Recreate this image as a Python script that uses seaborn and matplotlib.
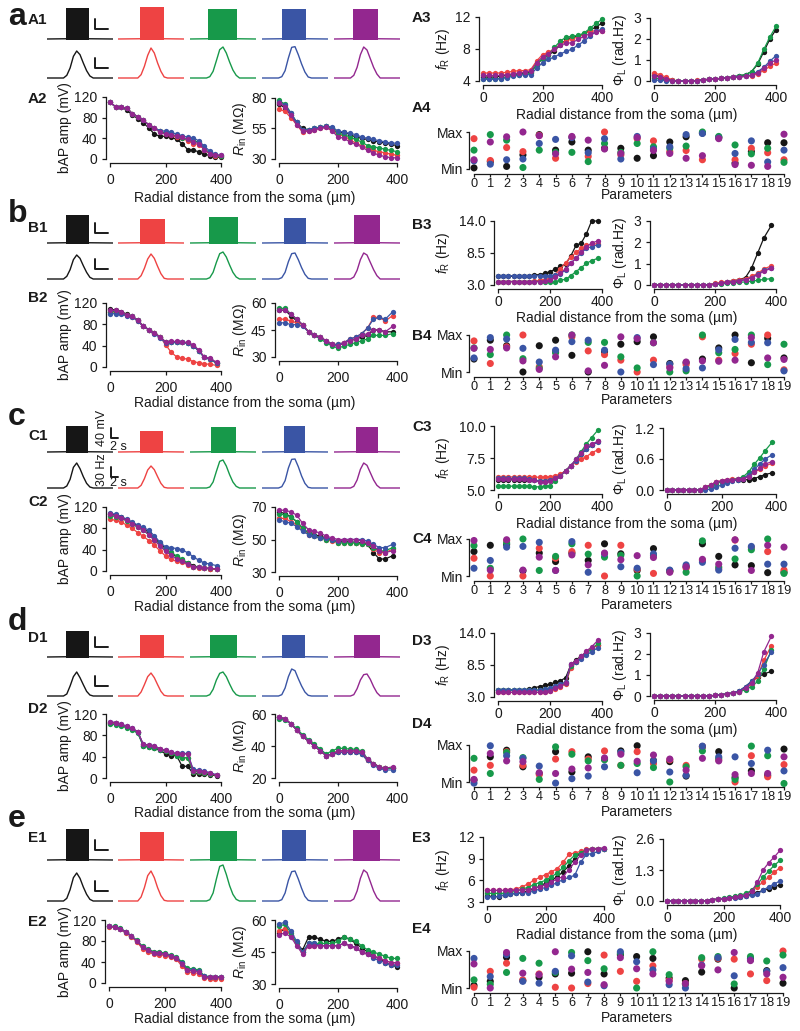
import matplotlib
matplotlib.use("Agg")
import matplotlib.pyplot as plt
import seaborn as sns

sns.set_theme(style="ticks", context="paper")
plt.rcParams["font.family"] = ["Liberation Sans", "DejaVu Sans"]
plt.rcParams["mathtext.fontset"] = "custom"
plt.rcParams["mathtext.rm"] = "Liberation Sans"
plt.rcParams["mathtext.it"] = "Liberation Sans:italic"
plt.rcParams["mathtext.bf"] = "Liberation Sans:bold"
plt.rcParams["axes.linewidth"] = 0.9
plt.rcParams["text.color"] = "#1a1a1a"

# ---------------------------------------------------------------- data
COLORS = ["#161616", "#EE4343", "#17994A", "#3A55A5", "#93278F"]
DIST_AE = [0, 20, 40, 60, 80, 100, 120, 140, 160, 180, 200, 220, 240, 260, 280, 300, 320, 340, 360, 380, 400]
DIST_BCD = [0, 20, 40, 60, 80, 100, 120, 140, 160, 180, 200, 220, 240, 260, 280, 300, 320, 340, 360, 385]
PARAMS = list(range(20))
PARAM_LABELS = [str(p) for p in PARAMS]
TRACE_T = [0, 2.5, 3.0, 3.5, 4.0, 4.5, 5.0, 5.5, 6.0, 6.5, 7.0, 7.5, 10]
REST_MV = -65
XLABEL = "Radial distance from the soma (\u00b5m)"

# ---- row a
V_START_A = [2.9, 3.3, 2.8, 3.0, 2.85]
V_END_A = [6.3, 7.0, 7.1, 6.6, 6.6]
V_PEAK_A = [58, 62, 54, 54, 54]
RATE_A = [[0, 0, 8, 30, 65, 81, 70, 45, 22, 6, 0, 0, 0],
          [0, 0, 0, 10, 35, 68, 90, 75, 45, 20, 3, 0, 0],
          [0, 0, 4, 20, 52, 85, 93, 75, 48, 24, 8, 0, 0],
          [0, 0, 4, 22, 60, 92, 94, 70, 42, 18, 3, 0, 0],
          [0, 0, 8, 32, 70, 93, 84, 58, 32, 12, 0, 0, 0]]
BAP_A = [[110, 101, 100, 95, 85, 78, 70, 60, 48, 44, 44, 42, 38, 30, 18, 17, 14, 10, 6, 4, 3],
         [110, 101, 100, 99, 88, 82, 75, 66, 60, 54, 48, 46, 42, 40, 35, 30, 28, 18, 10, 6, 5],
         [110, 101, 100, 99, 88, 82, 75, 66, 60, 54, 50, 48, 44, 40, 38, 35, 33, 20, 12, 8, 5],
         [110, 101, 100, 99, 88, 82, 75, 66, 60, 55, 54, 52, 48, 45, 42, 41, 35, 25, 15, 9, 7],
         [110, 101, 100, 99, 88, 82, 75, 66, 60, 52, 48, 47, 45, 42, 38, 33, 30, 18, 10, 7, 7]]
RIN_A = [[75, 72, 66, 60, 55, 54, 55, 56, 57, 55, 51, 52, 50, 48, 47, 46, 45, 44, 43, 42, 41],
         [71, 69, 64, 58, 52, 53, 54, 55, 56, 54, 50, 49, 46, 43, 41, 39, 37, 36, 35, 34, 33],
         [78, 75, 68, 60, 54, 54, 55, 56, 57, 55, 51, 50, 48, 46, 44, 41, 40, 39, 38, 37, 36],
         [77, 74, 68, 60, 54, 54, 55, 56, 57, 56, 53, 52, 51, 50, 48, 47, 46, 45, 44, 43, 43],
         [76, 73, 66, 58, 53, 53, 54, 55, 56, 53, 48, 47, 44, 42, 40, 37, 35, 33, 32, 31, 31]]
FR_A = [[4.5, 4.5, 4.5, 4.6, 4.7, 4.8, 4.9, 5.0, 5.1, 6.0, 6.8, 7.2, 7.8, 8.5, 9.2, 9.5, 9.6, 9.9, 10.3, 10.8, 11.2],
        [5.0, 5.0, 5.0, 5.0, 5.1, 5.2, 5.3, 5.3, 5.4, 6.5, 7.3, 7.6, 8.0, 8.6, 9.0, 9.3, 9.5, 9.9, 10.2, 10.3, 10.3],
        [4.3, 4.3, 4.3, 4.3, 4.5, 4.7, 4.8, 4.9, 5.0, 6.0, 6.8, 7.3, 8.2, 9.0, 9.5, 9.6, 9.7, 10.0, 10.6, 11.2, 11.7],
        [4.2, 4.2, 4.2, 4.3, 4.4, 4.6, 4.7, 4.8, 4.8, 5.6, 6.3, 6.7, 7.0, 7.4, 7.7, 8.0, 8.5, 9.0, 9.6, 10.2, 10.5],
        [4.7, 4.7, 4.7, 4.7, 4.8, 4.9, 5.0, 5.1, 5.2, 6.3, 7.0, 7.4, 8.0, 8.5, 8.7, 8.8, 9.2, 9.6, 9.9, 10.1, 10.3]]
PHI_A = [[0.30, 0.20, 0.10, 0.03, 0, 0, 0, 0.02, 0.05, 0.08, 0.10, 0.12, 0.15, 0.20, 0.25, 0.30, 0.45, 0.80, 1.40, 2.00, 2.45],
         [0.38, 0.30, 0.18, 0.05, 0, 0, 0, 0.03, 0.06, 0.08, 0.10, 0.12, 0.15, 0.18, 0.20, 0.22, 0.25, 0.35, 0.50, 0.70, 0.85],
         [0.15, 0.10, 0.05, 0, 0, 0, 0, 0.02, 0.05, 0.08, 0.10, 0.12, 0.15, 0.20, 0.25, 0.30, 0.45, 0.85, 1.50, 2.10, 2.60],
         [0.05, 0.03, 0.02, 0, 0, 0, 0, 0.02, 0.05, 0.08, 0.10, 0.12, 0.15, 0.18, 0.20, 0.22, 0.30, 0.45, 0.65, 0.95, 1.20],
         [0.25, 0.18, 0.10, 0.02, 0, 0, 0, 0.02, 0.05, 0.08, 0.10, 0.12, 0.15, 0.18, 0.20, 0.22, 0.28, 0.40, 0.60, 0.85, 1.00]]
PARS_A = [[.03, .20, .07, .38, .93, .51, .73, .51, .56, .56, .29, .36, .73, .87, .97, .86, .16, .47, .71, .71],
          [.82, .23, .58, .47, .91, .29, .86, .34, 1.0, .38, .82, .76, .47, .50, .25, .85, .25, .56, .44, .25],
          [.51, .93, .78, .04, .51, .45, .45, .20, .69, .45, .69, .60, .56, .62, 1.0, .88, .65, .41, .56, .18],
          [.22, .13, .25, .27, .69, .80, .85, .44, .82, .27, .88, .54, .60, .93, .96, .84, .42, .76, .19, .51],
          [.25, .73, .87, 1.0, .90, .41, .88, .78, .54, .42, .85, .50, .42, .29, .36, .82, .12, .10, .07, .94]]

# ---- row b
V_START_B = [2.9, 3.3, 2.9, 3.3, 3.0]
V_END_B = [6.3, 7.1, 7.2, 6.6, 6.9]
V_PEAK_B = [47, 31, 39, 35, 47]
RATE_B = [[0, 0, 8, 28, 58, 72, 62, 40, 20, 5, 0, 0, 0],
          [0, 0, 0, 10, 32, 60, 75, 62, 38, 16, 2, 0, 0],
          [0, 0, 4, 20, 50, 76, 81, 66, 42, 20, 6, 0, 0],
          [0, 0, 4, 20, 52, 76, 78, 58, 34, 14, 2, 0, 0],
          [0, 0, 6, 26, 58, 78, 72, 50, 28, 10, 0, 0, 0]]
BAP_B = [[108, 107, 104, 99, 95, 88, 77, 70, 63, 57, 47, 46, 46, 46, 45, 40, 30, 18, 15, 7],
         [103, 103, 101, 97, 94, 87, 76, 70, 63, 57, 42, 28, 19, 16, 15, 10, 8, 6, 5, 3],
         [104, 104, 102, 98, 95, 88, 76, 70, 63, 57, 47, 46, 46, 46, 45, 40, 30, 18, 15, 7],
         [100, 100, 99, 96, 94, 86, 76, 70, 62, 55, 45, 46, 46, 46, 45, 40, 30, 18, 15, 7],
         [106, 106, 103, 98, 95, 88, 76, 70, 63, 57, 47, 48, 48, 47, 46, 41, 32, 19, 16, 9]]
RIN_B = [[56, 56, 53, 50, 48, 44, 42, 41, 39, 37, 36, 38, 39, 40, 41, 42, 45, 45, 44, 44],
         [51, 51, 50, 49, 48, 44, 42, 41, 39, 37, 37, 38, 40, 41, 43, 46, 52, 52, 50, 53],
         [57, 57, 54, 51, 48, 44, 42, 40, 38, 36, 35, 36, 37, 38, 39, 40, 42, 42, 42, 43],
         [49, 49, 48, 48, 47, 44, 42, 41, 39, 37, 37, 38, 40, 41, 43, 46, 51, 52, 51, 55],
         [56, 56, 54, 51, 48, 44, 42, 41, 39, 37, 36, 38, 39, 40, 42, 43, 45, 45, 44, 47]]
FR_B = [[4.5, 4.5, 4.5, 4.5, 4.5, 4.6, 4.6, 4.7, 4.8, 5.0, 5.3, 5.7, 6.2, 6.6, 8.0, 9.8, 10.2, 11.8, 14.0, 14.0],
        [3.6, 3.6, 3.6, 3.6, 3.6, 3.6, 3.6, 3.7, 3.8, 3.9, 4.2, 4.8, 5.8, 6.8, 7.8, 8.6, 9.3, 9.8, 10.0, 10.1],
        [3.6, 3.6, 3.6, 3.6, 3.6, 3.6, 3.6, 3.6, 3.6, 3.6, 3.6, 3.6, 3.8, 4.0, 4.6, 5.3, 6.0, 6.7, 7.2, 7.6],
        [4.6, 4.6, 4.6, 4.6, 4.6, 4.6, 4.6, 4.6, 4.6, 4.6, 4.6, 4.7, 4.9, 5.6, 6.8, 7.6, 8.5, 9.3, 9.6, 9.9],
        [3.6, 3.6, 3.6, 3.6, 3.6, 3.6, 3.6, 3.6, 3.6, 3.7, 3.8, 4.3, 5.0, 5.8, 6.7, 7.6, 8.6, 9.6, 10.2, 10.6]]
PHI_B = [[0, 0, 0, 0, 0, 0, 0, 0, 0, 0, 0.05, 0.10, 0.15, 0.20, 0.25, 0.35, 0.80, 1.50, 2.20, 2.80],
         [0, 0, 0, 0, 0, 0, 0, 0, 0, 0.02, 0.08, 0.12, 0.15, 0.20, 0.25, 0.30, 0.40, 0.55, 0.75, 0.90],
         [0, 0, 0, 0, 0, 0, 0, 0, 0, 0, 0.03, 0.05, 0.08, 0.10, 0.12, 0.15, 0.18, 0.22, 0.26, 0.30],
         [0, 0, 0, 0, 0, 0, 0, 0, 0, 0, 0.05, 0.08, 0.12, 0.15, 0.20, 0.25, 0.35, 0.50, 0.68, 0.82],
         [0, 0, 0, 0, 0, 0, 0, 0, 0, 0, 0.05, 0.08, 0.12, 0.15, 0.20, 0.25, 0.35, 0.48, 0.65, 0.78]]
PARS_B = [[.35, .86, .71, .0, .71, .86, .45, .0, .55, .75, .82, .95, .23, .25, .35, .65, 1.0, .25, .91, .38],
          [.84, .23, .68, 1.0, .14, .55, .95, .57, .47, .32, .0, .32, .14, .20, .95, .32, .50, .75, 1.0, .06],
          [.65, .47, 1.0, .36, .10, .52, 1.0, .80, .80, .41, .11, .79, .0, .03, 1.0, .52, .61, 1.0, .20, .75],
          [.38, .93, .89, .64, .27, .59, .82, .86, .59, .0, .93, .20, .21, .09, .11, .60, .88, .80, .79, .03],
          [.64, .61, .65, .30, .07, .41, 1.0, .03, .18, .95, .90, .79, .11, .27, .30, .29, .32, .93, .38, .34]]

# ---- row c
V_START_C = [2.9, 3.4, 3.2, 3.4, 3.3]
V_END_C = [6.2, 6.8, 7.0, 6.5, 6.7]
V_PEAK_C = [39, 19, 35, 39, 35]
RATE_C = [[0, 0, 6, 26, 62, 75, 58, 34, 14, 3, 0, 0, 0],
          [0, 0, 0, 8, 28, 54, 66, 55, 34, 14, 2, 0, 0],
          [0, 0, 3, 18, 50, 80, 84, 66, 40, 18, 5, 0, 0],
          [0, 0, 4, 22, 60, 86, 87, 64, 36, 14, 2, 0, 0],
          [0, 0, 5, 24, 56, 75, 68, 46, 24, 8, 0, 0, 0]]
BAP_C = [[107, 105, 102, 96, 90, 85, 80, 72, 62, 52, 42, 34, 26, 20, 15, 10, 7, 6, 4, 3],
         [97, 95, 92, 86, 80, 72, 65, 57, 48, 38, 28, 22, 18, 16, 12, 7, 5, 5, 4, 3],
         [104, 102, 99, 94, 88, 82, 76, 68, 58, 48, 40, 35, 28, 22, 15, 8, 7, 6, 5, 4],
         [109, 106, 102, 97, 92, 86, 82, 76, 66, 54, 45, 44, 42, 40, 34, 27, 20, 15, 13, 10],
         [106, 104, 100, 95, 89, 83, 77, 68, 58, 47, 37, 30, 22, 18, 13, 8, 7, 6, 5, 4]]
RIN_C = [[67, 66, 64, 61, 57, 54, 53, 52, 51, 50, 49, 49, 49, 48, 48, 47, 42, 38, 38, 40],
         [63, 63, 61, 59, 56, 53, 52, 51, 50, 49, 48, 48, 48, 48, 47, 47, 44, 42, 42, 44],
         [66, 65, 64, 61, 57, 54, 52, 51, 50, 50, 48, 48, 48, 48, 47, 47, 45, 43, 43, 45],
         [62, 61, 60, 58, 55, 53, 52, 51, 51, 50, 49, 50, 50, 50, 50, 49, 47, 45, 45, 47],
         [68, 68, 67, 65, 60, 56, 55, 54, 52, 51, 50, 50, 50, 50, 49, 48, 46, 43, 42, 43]]
FR_C = [[5.8, 5.8, 5.8, 5.8, 5.8, 5.8, 5.75, 5.75, 5.7, 5.7, 5.8, 6.0, 6.2, 6.5, 6.9, 7.3, 7.8, 8.2, 8.5, 8.8],
        [6.05, 6.05, 6.05, 6.0, 6.0, 6.0, 6.0, 6.0, 6.0, 6.0, 6.05, 6.1, 6.25, 6.5, 6.9, 7.2, 7.4, 7.6, 7.9, 8.15],
        [5.3, 5.3, 5.3, 5.3, 5.3, 5.3, 5.3, 5.25, 5.25, 5.3, 5.35, 5.7, 6.1, 6.5, 6.9, 7.4, 8.0, 8.6, 9.1, 9.7],
        [5.9, 5.9, 5.9, 5.9, 5.9, 5.9, 5.85, 5.8, 5.7, 5.7, 5.75, 5.9, 6.1, 6.5, 6.9, 7.3, 7.8, 8.2, 8.5, 8.75],
        [5.85, 5.85, 5.85, 5.85, 5.85, 5.85, 5.8, 5.75, 5.65, 5.6, 5.7, 5.9, 6.1, 6.5, 6.9, 7.4, 7.9, 8.4, 8.6, 8.8]]
PHI_C = [[0, 0, 0, 0, 0, 0, 0, 0.05, 0.10, 0.15, 0.17, 0.18, 0.19, 0.20, 0.20, 0.20, 0.22, 0.26, 0.30, 0.33],
         [0, 0, 0, 0, 0, 0, 0, 0.05, 0.10, 0.15, 0.18, 0.20, 0.21, 0.22, 0.24, 0.28, 0.34, 0.40, 0.46, 0.52],
         [0, 0, 0, 0, 0, 0, 0, 0.03, 0.08, 0.12, 0.16, 0.18, 0.20, 0.22, 0.26, 0.35, 0.50, 0.62, 0.76, 0.92],
         [0, 0, 0, 0, 0, 0, 0, 0.0, 0.02, 0.05, 0.10, 0.14, 0.18, 0.20, 0.22, 0.30, 0.40, 0.50, 0.60, 0.68],
         [0, 0, 0, 0, 0, 0, 0, 0.05, 0.10, 0.15, 0.18, 0.20, 0.20, 0.21, 0.22, 0.26, 0.34, 0.42, 0.50, 0.55]]
PARS_C = [[.66, .83, .85, .14, .62, .39, .62, .42, .87, .60, .15, .74, .14, .25, .87, .53, .30, .28, .09, .10],
          [.48, .0, .95, .0, .75, .48, .66, .83, .0, .83, .18, .07, .12, .21, .42, .20, .97, .77, .66, .16],
          [.82, .21, .89, 1.0, .15, .53, .87, .59, .51, .56, .0, .55, .13, .10, .95, .24, .46, .71, 1.0, .07],
          [.21, .42, .78, .80, .91, .15, .93, .10, .60, .25, .21, .60, .16, .30, .37, .16, .75, .80, .32, .32],
          [.96, .16, .98, .16, .51, .15, .57, .30, .62, .44, .55, .50, .10, .25, .45, .32, .98, .15, .83, .78]]

# ---- row d
V_START_D = [2.9, 3.3, 3.1, 3.1, 3.0]
V_END_D = [6.3, 7.0, 7.1, 6.5, 6.9]
V_PEAK_D = [39, 23, 23, 23, 23]
RATE_D = [[0, 0, 6, 30, 58, 72, 55, 34, 14, 3, 0, 0, 0],
          [0, 0, 0, 12, 34, 58, 69, 55, 34, 14, 2, 0, 0],
          [0, 0, 4, 20, 48, 68, 72, 58, 36, 16, 4, 0, 0],
          [0, 0, 4, 24, 58, 81, 76, 52, 30, 12, 2, 0, 0],
          [0, 0, 4, 22, 48, 64, 66, 50, 28, 10, 0, 0, 0]]
BAP_D = [[104, 103, 100, 96, 92, 86, 60, 58, 56, 52, 45, 42, 42, 22, 22, 8, 8, 7, 6, 4],
         [104, 103, 100, 96, 92, 86, 62, 60, 58, 54, 50, 46, 44, 38, 38, 12, 12, 10, 8, 5],
         [101, 100, 98, 94, 90, 84, 60, 58, 57, 53, 50, 46, 42, 38, 38, 12, 12, 10, 8, 5],
         [105, 104, 101, 97, 93, 87, 63, 62, 60, 55, 52, 48, 46, 46, 46, 16, 15, 13, 10, 6],
         [105, 104, 101, 97, 93, 87, 63, 62, 60, 55, 52, 48, 46, 45, 45, 14, 14, 12, 9, 5]]
RIN_D = [[58, 57, 54, 50, 46, 43, 40, 37, 34, 35, 36, 36, 36, 36, 35, 31, 29, 27, 26, 26],
         [58, 57, 54, 50, 46, 43, 40, 37, 34, 35, 37, 37, 37, 37, 36, 31, 29, 27, 26, 26],
         [57, 56, 54, 51, 47, 44, 41, 38, 35, 37, 38.5, 38.5, 38, 38, 37, 32, 29, 27, 26, 26],
         [58, 57, 54, 50, 46, 43, 40, 37, 34, 35, 36, 36, 36, 36, 35, 31, 28, 26, 25, 25],
         [58, 57, 54, 50, 46, 43, 40, 37, 34, 35, 37, 37, 37, 37, 36, 32, 29, 27, 26, 27]]
FR_D = [[4.2, 4.2, 4.2, 4.2, 4.2, 4.2, 4.3, 4.6, 4.8, 5.0, 5.2, 5.5, 5.8, 6.3, 8.5, 9.4, 10.0, 10.6, 11.3, 12.0],
        [3.8, 3.8, 3.8, 3.8, 3.8, 3.8, 3.8, 3.8, 3.8, 3.9, 4.0, 4.3, 4.8, 5.2, 8.0, 9.0, 9.8, 10.6, 11.3, 12.0],
        [4.2, 4.2, 4.2, 4.2, 4.2, 4.2, 4.2, 4.2, 4.2, 4.3, 4.4, 4.7, 5.0, 5.4, 8.3, 9.1, 9.8, 10.5, 11.3, 12.2],
        [4.2, 4.2, 4.2, 4.2, 4.2, 4.2, 4.2, 4.2, 4.2, 4.3, 4.5, 4.9, 5.2, 5.6, 8.6, 9.0, 9.6, 10.2, 10.8, 11.5],
        [3.8, 3.8, 3.8, 3.8, 3.8, 3.8, 3.8, 3.8, 3.8, 3.9, 4.1, 4.5, 4.9, 5.4, 8.6, 9.2, 10.0, 10.9, 11.6, 12.8]]
PHI_D = [[0, 0, 0, 0, 0, 0, 0, 0, 0, 0, 0.03, 0.06, 0.10, 0.15, 0.25, 0.45, 0.70, 0.90, 1.05, 1.17],
         [0, 0, 0, 0, 0, 0, 0, 0, 0, 0, 0.03, 0.06, 0.10, 0.15, 0.20, 0.35, 0.55, 0.95, 1.70, 2.40],
         [0, 0, 0, 0, 0, 0, 0, 0, 0, 0, 0.03, 0.06, 0.10, 0.15, 0.20, 0.30, 0.45, 0.70, 1.30, 2.20],
         [0, 0, 0, 0, 0, 0, 0, 0, 0, 0, 0.03, 0.06, 0.10, 0.15, 0.25, 0.45, 0.70, 1.05, 1.50, 2.10],
         [0, 0, 0, 0, 0, 0, 0, 0, 0, 0, 0.03, 0.06, 0.10, 0.15, 0.20, 0.40, 0.60, 1.10, 2.10, 2.85]]
PARS_D = [[.05, .68, .86, .41, .23, .82, .27, .68, .62, .84, .98, .58, .55, .16, .95, .82, .12, .30, .18, .89],
          [.32, .45, .82, .45, .20, .62, .82, .62, .84, .45, .82, .50, .60, .45, .96, .60, .0, .71, .14, .47],
          [.64, .23, .80, .66, .07, .95, .75, .57, .60, .45, .50, .39, .0, .41, .84, .64, .07, .97, .71, -.04],
          [-.03, .98, .71, .64, .43, -.03, .09, .16, .41, .80, .25, .57, .27, .18, .97, .68, .68, .50, .86, .30],
          [.07, .77, .57, .55, .25, .23, .35, .38, .65, .75, .56, .73, .62, .32, .64, .57, .20, .23, .23, .68]]

# ---- row e
V_START_E = [2.9, 3.3, 3.0, 3.1, 2.9]
V_END_E = [6.3, 7.0, 7.1, 6.6, 7.0]
V_PEAK_E = [59, 47, 51, 55, 55]
RATE_E = [[0, 0, 8, 34, 70, 84, 68, 42, 20, 5, 0, 0, 0],
          [0, 0, 0, 12, 40, 76, 90, 70, 40, 16, 2, 0, 0],
          [0, 0, 4, 24, 66, 104, 108, 80, 46, 20, 5, 0, 0],
          [0, 0, 4, 24, 62, 88, 90, 66, 38, 14, 2, 0, 0],
          [0, 0, 6, 30, 68, 93, 85, 58, 30, 10, 0, 0, 0]]
BAP_E = [[108, 107, 103, 97, 89, 80, 68, 62, 58, 57, 55, 52, 48, 38, 25, 24, 22, 13, 11, 11, 11],
         [107, 106, 102, 96, 88, 78, 65, 59, 55, 54, 52, 49, 45, 33, 21, 20, 18, 10, 8, 8, 8],
         [108, 108, 104, 98, 90, 81, 70, 64, 60, 59, 57, 53, 50, 40, 28, 27, 25, 14, 12, 12, 12],
         [108, 107, 103, 97, 89, 80, 68, 62, 58, 57, 55, 52, 48, 38, 25, 24, 22, 13, 11, 11, 11],
         [108, 107, 103, 97, 89, 80, 68, 62, 58, 57, 55, 51, 47, 37, 24, 23, 21, 12, 11, 11, 11]]
RIN_E = [[54, 56, 53, 49, 46, 52, 52, 51, 50, 50, 51, 52, 51, 49, 47, 45, 43, 42, 40, 39, 38],
         [55, 56, 53, 49, 45, 48, 48, 48, 48, 48, 48, 49, 48, 47, 45, 44, 43, 42, 41, 40, 40],
         [57, 58, 54, 49, 45, 49, 49, 49, 49, 49, 50, 52, 51, 50, 48, 46, 45, 44, 43, 42, 42],
         [58, 59, 55, 50, 45, 49, 49, 48, 48, 48, 48, 49, 48, 47, 45, 44, 42, 41, 40, 39, 39],
         [53, 54, 52, 48, 44, 48, 48, 48, 48, 48, 48, 49, 48, 47, 45, 44, 43, 42, 41, 40, 40]]
FR_E = [[3.8, 3.8, 3.7, 4.0, 4.1, 4.2, 4.3, 4.5, 4.8, 5.2, 5.6, 6.0, 6.5, 7.2, 8.0, 9.0, 9.8, 10.2, 10.3, 10.4, 10.4],
        [4.6, 4.6, 4.6, 4.6, 4.7, 4.8, 5.1, 5.5, 6.0, 6.4, 6.8, 7.2, 7.6, 8.5, 9.6, 9.8, 10.0, 10.3, 10.4, 10.4, 10.4],
        [4.2, 4.2, 4.2, 4.2, 4.3, 4.5, 4.8, 5.0, 5.4, 5.7, 6.0, 6.5, 7.0, 7.8, 8.7, 9.5, 9.8, 10.2, 10.4, 10.4, 10.4],
        [3.7, 3.7, 3.8, 4.0, 4.1, 4.2, 4.3, 4.3, 4.5, 4.8, 5.0, 5.3, 5.7, 6.1, 6.4, 6.7, 8.5, 9.6, 9.7, 10.0, 10.4],
        [4.6, 4.6, 4.6, 4.6, 4.6, 4.6, 4.7, 4.7, 4.9, 5.1, 5.4, 5.8, 6.2, 6.5, 7.5, 8.5, 9.5, 10.2, 10.4, 10.4, 10.5]]
PHI_E = [[0, 0, 0, 0, 0, 0, 0, 0.02, 0.05, 0.08, 0.10, 0.12, 0.15, 0.18, 0.22, 0.28, 0.35, 0.45, 0.52, 0.60, 0.67],
         [0, 0, 0, 0, 0, 0, 0, 0.02, 0.05, 0.08, 0.10, 0.12, 0.15, 0.20, 0.28, 0.40, 0.60, 0.80, 1.00, 1.20, 1.40],
         [0, 0, 0, 0, 0, 0, 0, 0.02, 0.05, 0.08, 0.12, 0.15, 0.20, 0.25, 0.32, 0.45, 0.70, 1.00, 1.25, 1.50, 1.70],
         [0, 0, 0, 0, 0, 0, 0, 0.02, 0.05, 0.08, 0.10, 0.12, 0.14, 0.16, 0.20, 0.25, 0.30, 0.45, 0.60, 0.72, 0.84],
         [0, 0, 0, 0, 0, 0, 0, 0.02, 0.05, 0.08, 0.10, 0.12, 0.15, 0.20, 0.26, 0.40, 0.80, 1.30, 1.60, 1.85, 2.12]]
PARS_E = [[.07, .18, .83, .20, .29, .38, .40, .98, .38, .90, .85, .80, .27, .20, .43, .78, .0, .80, .47, .13],
          [.02, .45, .67, .22, .38, .02, .0, .12, .89, .45, .18, .60, .21, .12, .78, .80, .78, .38, .20, 1.0],
          [.22, .10, .42, .80, .67, .42, .96, .74, .52, .94, .0, .98, .36, .10, .82, .85, .11, .85, .73, .89],
          [.80, .31, .90, .18, .13, .45, .87, .16, .06, .98, .71, .49, .09, .0, .62, .82, .33, .76, .45, .55],
          [.65, .0, .96, .40, .36, .98, .51, .42, .09, .82, .52, .38, .18, .12, .60, .49, .96, .74, .38, .29]]

# tick values / labels per row
RIN_TICKS = {"a": [30, 55, 80], "b": [30, 45, 60], "c": [30, 50, 70], "d": [20, 40, 60], "e": [30, 45, 60]}
FR_TICKS = {"a": [4, 8, 12], "b": [3, 8.5, 14], "c": [5, 7.5, 10], "d": [3, 8.5, 14], "e": [3, 6, 9, 12]}
FR_TICKLABELS = {"a": ["4", "8", "12"], "b": ["3.0", "8.5", "14.0"], "c": ["5.0", "7.5", "10.0"],
                 "d": ["3.0", "8.5", "14.0"], "e": ["3", "6", "9", "12"]}
PHI_TICKS = {"a": [0, 1, 2, 3], "b": [0, 1, 2, 3], "c": [0, 0.6, 1.2], "d": [0, 1, 2, 3], "e": [0, 1.3, 2.6]}
PHI_TICKLABELS = {"a": ["0", "1", "2", "3"], "b": ["0", "1", "2", "3"], "c": ["0.0", "0.6", "1.2"],
                  "d": ["0", "1", "2", "3"], "e": ["0.0", "1.3", "2.6"]}
BAP_TICKS = [0, 40, 80, 120]

# ---------------------------------------------------------------- layout (pixels)
W, H, DPI = 800, 1031, 100
TRACE_X0 = [47, 118, 190, 262, 334]
TRACE_W = 66
LAYOUT = {
    "a": dict(letter=25, l1=24, l2=103, l3=22, l4=112, vbase=39, rbase=78,
              bap=(110, 97, 221, 159), rin=(279, 98, 397, 159), fr=(483, 17, 602, 81),
              phi=(654, 18, 776, 81), strip=(474, 132, 784, 169), xl_l=198, xl_r=115, par=195),
    "b": dict(letter=222, l1=232, l2=302, l3=229, l4=340, vbase=243, rbase=279,
              bap=(110, 303, 221, 367), rin=(279, 303, 397, 357), fr=(498, 221, 602, 285),
              phi=(654, 221, 776, 285), strip=(474, 335, 784, 372), xl_l=403, xl_r=318, par=400),
    "c": dict(letter=425, l1=440, l2=506, l3=431, l4=543, vbase=452, rbase=488,
              bap=(110, 507, 221, 571), rin=(279, 507, 397, 572), fr=(498, 426, 602, 490),
              phi=(667, 428, 776, 490), strip=(474, 539, 784, 576), xl_l=607, xl_r=524, par=605),
    "d": dict(letter=630, l1=642, l2=713, l3=645, l4=728, vbase=657, rbase=696,
              bap=(110, 714, 221, 778), rin=(279, 714, 397, 778), fr=(498, 633, 602, 697),
              phi=(654, 633, 776, 696), strip=(474, 745, 784, 782), xl_l=813, xl_r=730, par=812),
    "e": dict(letter=827, l1=842, l2=926, l3=842, l4=933, vbase=860, rbase=901,
              bap=(109, 920, 221, 983), rin=(279, 920, 397, 984), fr=(487, 837, 604, 902),
              phi=(667, 839, 780, 901), strip=(474, 951, 783, 988), xl_l=1019, xl_r=935, par=1018),
}

fig = plt.figure(figsize=(W / DPI, H / DPI), dpi=DPI)
fig.patch.set_facecolor("white")
INK = "#1a1a1a"


def box(x0, y0, x1, y1):
    return fig.add_axes([x0 / W, 1 - y1 / H, (x1 - x0) / W, (y1 - y0) / H])


def ftext(x, y, s, **kw):
    fig.text(x / W, 1 - y / H, s, **kw)


def style_axes(ax, xb, yb, out=3.0, xpad=5.0, ypad=3.0, length=3.0, xsize=10):
    for s in ("top", "right"):
        ax.spines[s].set_visible(False)
    for s in ("left", "bottom"):
        ax.spines[s].set_position(("outward", out))
        ax.spines[s].set_color(INK)
        ax.spines[s].set_linewidth(0.9)
    ax.spines["left"].set_bounds(*yb)
    ax.spines["bottom"].set_bounds(*xb)
    ax.tick_params(axis="both", direction="out", length=length, width=0.9,
                   labelsize=10, colors=INK)
    ax.tick_params(axis="x", pad=xpad, labelsize=xsize)
    ax.tick_params(axis="y", pad=ypad)
    ax.patch.set_alpha(0)
    ax.set_xlabel("")
    ax.set_ylabel("")


def line_panel(rect, xs, series, ylim, yticks, yticklabels, ylabel, ylabel_x, xpad):
    ax = box(*rect)
    for col, ys in zip(COLORS, series):
        sns.lineplot(x=xs, y=ys, color=col, marker="o", markersize=3.8,
                     markeredgewidth=0, linewidth=0.9, clip_on=False, ax=ax)
    ax.set_xlim(0, 400)
    ax.set_ylim(*ylim)
    ax.set_xticks([0, 200, 400])
    ax.set_yticks(yticks)
    ax.set_yticklabels(yticklabels)
    style_axes(ax, (0, 400), ylim, xpad=xpad)
    ftext(ylabel_x, (rect[1] + rect[3]) / 2, ylabel, rotation=90,
          ha="center", va="center", fontsize=10)
    return ax


def strip_panel(rect, series):
    ax = box(*rect)
    for col, ys in zip(COLORS, series):
        sns.scatterplot(x=PARAMS, y=ys, color=col, s=26, edgecolor="none",
                        linewidth=0, clip_on=False, ax=ax, zorder=3, legend=False)
    ax.set_xlim(0, 19)
    ax.set_ylim(0, 1)
    ax.set_xticks(PARAMS)
    ax.set_xticklabels(PARAM_LABELS)
    ax.set_yticks([0, 1])
    ax.set_yticklabels(["Min", "Max"])
    style_axes(ax, (0, 19), (0, 1), out=3.5, xpad=0.5, ypad=2.0, length=2.2, xsize=9.2)
    return ax


def trace_row(lay, starts, ends, peaks, rates, row):
    vb, rb = lay["vbase"], lay["rbase"]
    for i, col in enumerate(COLORS):
        x0 = TRACE_X0[i]
        axv = box(x0, vb - 34, x0 + TRACE_W, vb + 4)
        axv.set_xlim(0, 10)
        axv.set_ylim(-81, 71)
        axv.axis("off")
        sns.lineplot(x=[0, starts[i], ends[i], 10], y=[REST_MV, REST_MV + 1, REST_MV + 1, REST_MV],
                     color=col, linewidth=1.0, ax=axv)
        axv.fill_between([starts[i], ends[i]], REST_MV - 4, peaks[i], color=col, linewidth=0)
        axr = box(x0, rb - 38, x0 + TRACE_W, rb + 2)
        axr.set_xlim(0, 10)
        axr.set_ylim(-6, 114)
        axr.axis("off")
        sns.lineplot(x=TRACE_T, y=rates[i], color=col, linewidth=1.0, ax=axr)
        if i == 0:
            if row == "c":
                t0, t1, v0, r0 = 9.7, 10.75, -9, 33
            else:
                t0, t1, v0, r0 = 7.3, 9.3, -25, 30
            axv.plot([t0, t0, t1], [v0 + 40, v0, v0], color=INK, lw=1.4, clip_on=False)
            axr.plot([t0, t0, t1], [r0 + 30, r0, r0], color=INK, lw=1.4, clip_on=False)
            if row == "c":
                ftext(102, 428, "40 mV", rotation=90, ha="center", va="center", fontsize=9)
                ftext(110, 447, "2 s", ha="left", va="center", fontsize=9)
                ftext(102, 470, "30 Hz", rotation=90, ha="center", va="center", fontsize=9)
                ftext(110, 483, "2 s", ha="left", va="center", fontsize=9)


ROWS = [
    ("a", "A", DIST_AE, V_START_A, V_END_A, V_PEAK_A, RATE_A, BAP_A, RIN_A, FR_A, PHI_A, PARS_A,
     (30, 80), (4, 12), (0, 3)),
    ("b", "B", DIST_BCD, V_START_B, V_END_B, V_PEAK_B, RATE_B, BAP_B, RIN_B, FR_B, PHI_B, PARS_B,
     (30, 60), (3, 14), (0, 3)),
    ("c", "C", DIST_BCD, V_START_C, V_END_C, V_PEAK_C, RATE_C, BAP_C, RIN_C, FR_C, PHI_C, PARS_C,
     (30, 70), (5, 10), (0, 1.2)),
    ("d", "D", DIST_BCD, V_START_D, V_END_D, V_PEAK_D, RATE_D, BAP_D, RIN_D, FR_D, PHI_D, PARS_D,
     (20, 60), (3, 14), (0, 3)),
    ("e", "E", DIST_AE, V_START_E, V_END_E, V_PEAK_E, RATE_E, BAP_E, RIN_E, FR_E, PHI_E, PARS_E,
     (30, 60), (3, 12), (0, 2.6)),
]

for (row, up, dist, vs, ve, vp, rate, bap, rin, fr, phi, pars, rin_lim, fr_lim, phi_lim) in ROWS:
    lay = LAYOUT[row]
    ftext(8, lay["letter"], row, fontsize=23, fontweight="bold", va="baseline", ha="left")
    ftext(28, lay["l1"], up + "1", fontsize=11, fontweight="bold", va="baseline", ha="left")
    ftext(28, lay["l2"], up + "2", fontsize=11, fontweight="bold", va="baseline", ha="left")
    ftext(412, lay["l3"], up + "3", fontsize=11, fontweight="bold", va="baseline", ha="left")
    ftext(412, lay["l4"], up + "4", fontsize=11, fontweight="bold", va="baseline", ha="left")

    trace_row(lay, vs, ve, vp, rate, row)

    line_panel(lay["bap"], dist, bap, (0, 120), BAP_TICKS, [str(t) for t in BAP_TICKS],
               "bAP amp (mV)", 65, 4.0)
    line_panel(lay["rin"], dist, rin, rin_lim, RIN_TICKS[row], [str(t) for t in RIN_TICKS[row]],
               "$R_{\\rm in}$ (M\u03a9)", 240, 4.0)
    line_panel(lay["fr"], dist, fr, fr_lim, FR_TICKS[row], FR_TICKLABELS[row],
               r"$f_{\rm R}$ (Hz)", 443, 1.0)
    line_panel(lay["phi"], dist, phi, phi_lim, PHI_TICKS[row], PHI_TICKLABELS[row],
               r"$\Phi_{\rm L}$ (rad.Hz)", 620, 1.0)
    strip_panel(lay["strip"], pars)

    ftext(245, lay["xl_l"], XLABEL, ha="center", va="center", fontsize=10)
    ftext(627, lay["xl_r"], XLABEL, ha="center", va="center", fontsize=10)
    ftext(637, lay["par"], "Parameters", ha="center", va="center", fontsize=10)

fig.savefig("out.png", dpi=DPI, facecolor="white")
